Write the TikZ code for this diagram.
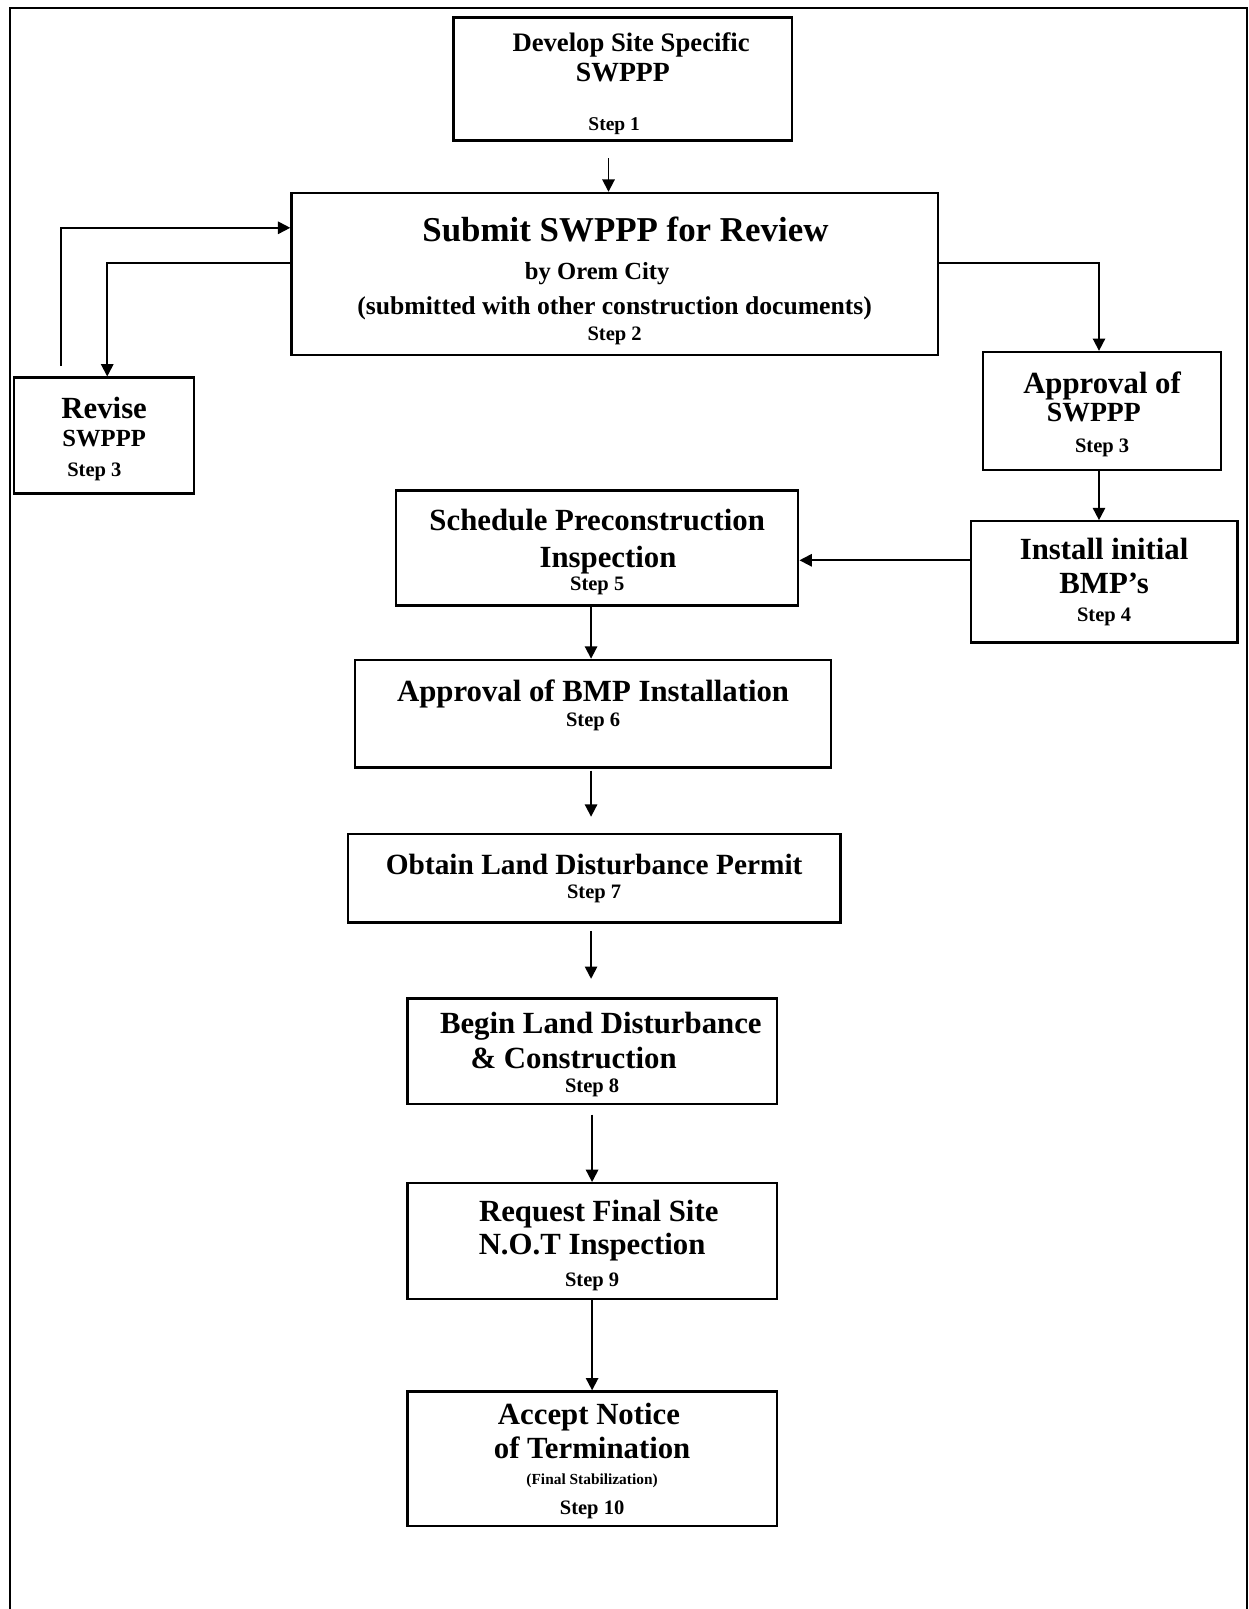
\documentclass[tikz,border=0pt]{standalone}
\usepackage{fontspec}
\setmainfont{Liberation Serif}
\usetikzlibrary{arrows.meta}
\newcommand{\sz}[1]{\fontsize{#1}{0}\selectfont}

\begin{document}
\begin{tikzpicture}[x=0.5pt, y=-0.5pt,
  stepbox/.style={draw, line width=1.1pt, inner sep=0pt, align=center,
                  font={\bfseries\fontsize{10}{0}\selectfont\lineskiplimit-100pt}},
  arr/.style={-{Triangle[length=6pt,width=6pt]}, line width=0.9pt}
]
\useasboundingbox (0,0) rectangle (1217,1568);
% frame, open at the bottom
\draw[line width=1.1pt] (10,1568) -- (10,8) -- (1215,8) -- (1215,1568);

\node[stepbox, minimum width=165pt, minimum height=60pt] (develop) at (607,77)
  {\\[13.7pt]{\sz{13}\hspace*{8pt}Develop Site Specific}\\[14.65pt]{\sz{13.5}SWPPP}\\[24.2pt]{\sz{9.5}Step 1\hspace*{8.5pt}}};
\node[stepbox, minimum width=315pt, minimum height=79pt] (submit) at (599,267)
  {\\[18.75pt]{\sz{17}\hspace*{10.5pt}Submit SWPPP for Review}\\[18.35pt]{\sz{12}by Orem City\rule{17pt}{0pt}}\\[17.2pt]
   {\sz{12.5}(submitted with other construction documents)}\\[12.7pt]{\sz{10}Step 2}};
\node[stepbox, minimum width=87.5pt, minimum height=56.5pt] (revise) at (101.5,424.5)
  {\\[13.7pt]{\sz{15}Revise}\\[13.5pt]{\sz{12}SWPPP}\\[14.5pt]{\sz{10}Step 3\hspace*{9.5pt}}};
\node[stepbox, minimum width=116pt, minimum height=57.5pt] (approval) at (1074,400.5)
  {\\[13.7pt]{\sz{15}Approval of}\\[14pt]{\sz{13.5}SWPPP\rule{8pt}{0pt}}\\[15pt]{\sz{10}Step 3}};
\node[stepbox, minimum width=130pt, minimum height=59pt] (install) at (1076,567)
  {{\sz{15}Install initial}\\[17pt]{\sz{15}BMP’s}\\[13.5pt]{\sz{10}Step 4}};
\node[stepbox, minimum width=196pt, minimum height=56pt] (schedule) at (582,534)
  {\\[14.35pt]{\sz{15}Schedule Preconstruction}\\[18pt]{\sz{15}\hspace*{10.5pt}Inspection}\\[11pt]{\sz{10}Step 5}};
\node[stepbox, minimum width=232pt, minimum height=52.5pt] (bmpok) at (578,695.5)
  {{\sz{15}Approval of BMP Installation}\\[12pt]{\sz{10}Step 6}\\[10pt]};
\node[stepbox, minimum width=240pt, minimum height=43pt] (permit) at (579,856)
  {{\sz{14.3}Obtain Land Disturbance Permit}\\[12pt]{\sz{10}Step 7}};
\node[stepbox, minimum width=180pt, minimum height=51.5pt] (begin) at (577,1024.5)
  {\\[13.7pt]{\sz{15}\hspace*{8.5pt}Begin Land Disturbance}\\[17pt]{\sz{15}\& Construction\rule{18pt}{0pt}}\\[11.5pt]{\sz{10}Step 8}};
\node[stepbox, minimum width=180pt, minimum height=56.5pt] (request) at (577,1209.5)
  {\\[14.65pt]{\sz{15}\hspace*{6.5pt}Request Final Site}\\[16pt]{\sz{15}N.O.T Inspection}\\[15.5pt]{\sz{10}Step 9}};
\node[stepbox, minimum width=180pt, minimum height=65.5pt] (accept) at (577,1421.5)
  {\\[12.65pt]{\sz{15}Accept Notice\rule{3pt}{0pt}}\\[16.5pt]{\sz{15}of Termination}\\[12.5pt]{\sz{7.5}(Final Stabilization)}\\[14.5pt]{\sz{10}Step 10}};

% connectors
\draw[arr, shorten <=8pt] ([xshift=-7pt]develop.south) -- ([xshift=-7pt]develop.south |- submit.north);
\draw[arr, shorten <=5pt] ([xshift=-21pt]revise.north) |- ([yshift=22.5pt]submit.west);
\draw[arr] ([yshift=5.5pt]submit.west) -| ([xshift=1.5pt]revise.north);
\draw[arr] ([yshift=5.5pt]submit.east) -| ([xshift=-1.5pt]approval.north);
\draw[arr] ([xshift=-1.5pt]approval.south) -- ([xshift=-1.5pt]approval.south |- install.north);
\draw[arr] ([yshift=10.5pt]install.west) -- ([yshift=10.5pt]install.west -| schedule.east);
\draw[arr] ([xshift=-3pt]schedule.south) -- ([xshift=-3pt]schedule.south |- bmpok.north);
\draw[arr, shorten <=1pt, shorten >=8pt] ([xshift=-1pt]bmpok.south) -- ([xshift=-1pt]bmpok.south |- permit.north);
\draw[arr, shorten <=3.5pt, shorten >=9pt] ([xshift=-1.5pt]permit.south) -- ([xshift=-1.5pt]permit.south |- begin.north);
\draw[arr, shorten <=4.5pt] (begin.south) -- (request.north);
\draw[arr] (request.south) -- (accept.north);
\end{tikzpicture}
\end{document}
